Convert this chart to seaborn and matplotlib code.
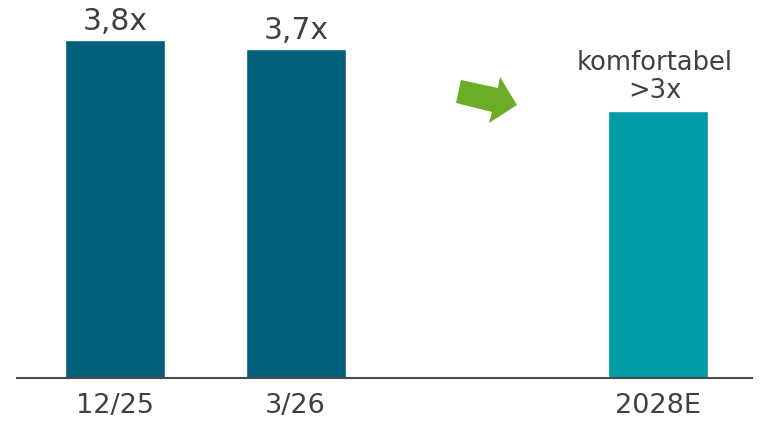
import matplotlib
matplotlib.use("Agg")
import matplotlib.pyplot as plt
from matplotlib.patches import Polygon
from matplotlib.transforms import IdentityTransform
import seaborn as sns
import pandas as pd

# Daten
kategorien = ['12/25', '3/26', '2028E']
werte = [3.8, 3.7, 3.0]
beschriftung = ['3,8x', '3,7x', 'komfortabel\n>3x']
reihenfolge = ['12/25', '3/26', '', '2028E']
farben = {'12/25': '#015f7a', '3/26': '#015f7a', '2028E': '#009ca8'}

df = pd.DataFrame({'Periode': kategorien, 'Wert': werte})

sns.set_style('white')
plt.rcParams['font.family'] = ['DejaVu Sans']

fig = plt.figure(figsize=(7.63, 4.21), dpi=100)
ax = fig.add_axes([0.0223, 0.102, 0.9633, 0.898])

sns.barplot(data=df, x='Periode', y='Wert', hue='Periode', order=reihenfolge,
            palette=farben, width=0.55, legend=False, saturation=1, ax=ax)

ax.set_xlim(-0.54, 3.52)
ax.set_ylim(0, 4.25)
ax.set_xlabel('')
ax.set_ylabel('')
ax.set_yticks([])
ax.tick_params(axis='x', length=0, pad=11, labelsize=19.5, labelcolor='#404040')

for s in ['top', 'left', 'right']:
    ax.spines[s].set_visible(False)
ax.spines['bottom'].set_color('#4a4a4a')
ax.spines['bottom'].set_linewidth(1.5)

# Wertebeschriftungen
for kat, wert, text in zip(kategorien, werte, beschriftung):
    pos = reihenfolge.index(kat)
    if '\n' in text:
        ax.annotate(text, xy=(pos, wert), xytext=(-2, 5), textcoords='offset points',
                    ha='center', va='bottom', fontsize=18.5, color='#404040',
                    linespacing=1.1, multialignment='center')
    else:
        ax.annotate(text, xy=(pos, wert), xytext=(0, 3), textcoords='offset points',
                    ha='center', va='bottom', fontsize=21.5, color='#404040')

# Gruener Pfeil
pfeil_px = [(461, 80), (498, 88), (500, 77), (517, 105), (489, 123), (492, 112), (456, 103)]
pfeil = Polygon([(x, 421 - y) for x, y in pfeil_px], closed=True,
                facecolor='#6aae27', edgecolor='none', transform=IdentityTransform())
fig.patches.append(pfeil)

fig.savefig('out.png', dpi=100)
